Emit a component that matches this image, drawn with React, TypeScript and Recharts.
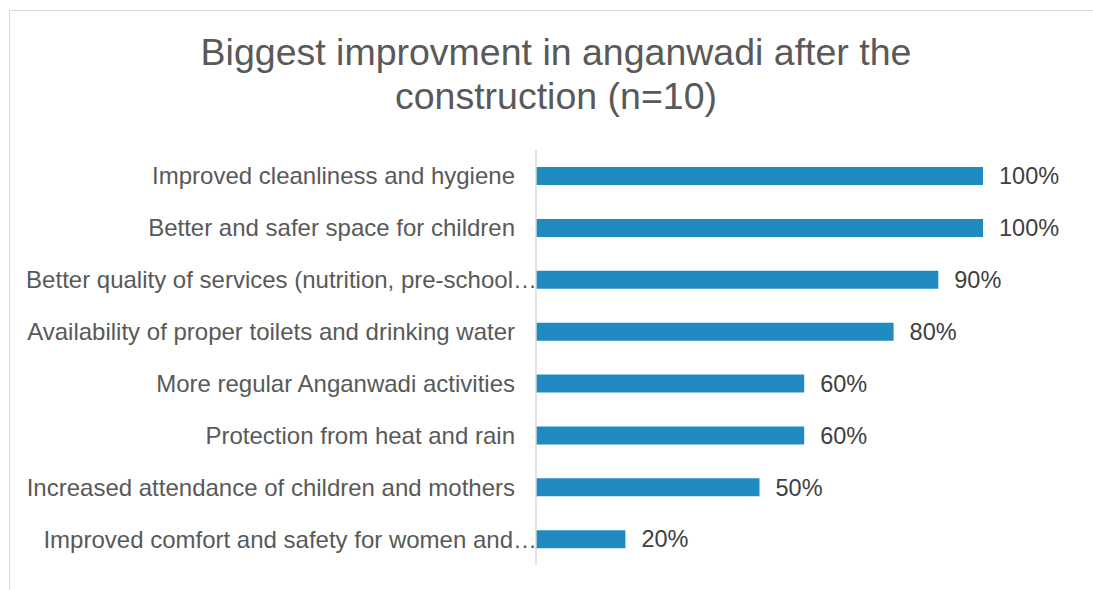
import { Bar, BarChart, LabelList, XAxis, YAxis } from "recharts";

const categories = [
  "Improved cleanliness and hygiene",
  "Better and safer space for children",
  "Better quality of services (nutrition, pre-school…",
  "Availability of proper toilets and drinking water",
  "More regular Anganwadi activities",
  "Protection from heat and rain",
  "Increased attendance of children and mothers",
  "Improved comfort and safety for women and…",
];

const shares = [100, 100, 90, 80, 60, 60, 50, 20];

const xTicks = [0, 100];

const data = categories.map((name, i) => ({ name, value: shares[i] }));

const FONT = "'Liberation Sans', Arial, sans-serif";

function CategoryTick({ x, y, payload }: { x?: number; y?: number; payload?: { value: string } }) {
  const label = payload?.value ?? "";
  // truncated labels run right up to the axis, like Excel does
  const dx = label.endsWith("…") ? 1 : -21;
  return (
    <text
      x={(x ?? 0) + dx}
      y={y}
      textAnchor="end"
      dominantBaseline="central"
      fill="#595959"
      fontSize={24}
      fontFamily={FONT}
    >
      {label}
    </text>
  );
}

export default function App() {
  return (
    <div
      style={{
        position: "fixed",
        left: 0,
        top: 0,
        width: 1093,
        height: 590,
        overflow: "hidden",
        background: "#fff",
        fontFamily: FONT,
      }}
    >
      <div
        style={{
          position: "absolute",
          left: 9,
          top: 10,
          width: 1200,
          height: 700,
          border: "1px solid #d9d9d9",
        }}
      />
      <div
        style={{
          position: "absolute",
          left: 19,
          top: 30,
          width: 1074,
          textAlign: "center",
          fontSize: 37.5,
          lineHeight: "44px",
          color: "#595959",
        }}
      >
        Biggest improvment in anganwadi after the
        <br />
        construction (n=10)
      </div>
      <div style={{ position: "absolute", left: 0, top: 0 }}>
        <BarChart
          width={1093}
          height={590}
          data={data}
          layout="vertical"
          margin={{ top: 150, right: 110, bottom: 25, left: 0 }}
          barCategoryGap={17}
        >
          <XAxis type="number" domain={[0, 100]} ticks={xTicks} hide />
          <YAxis
            type="category"
            dataKey="name"
            width={536}
            axisLine={{ stroke: "#d9d9d9", strokeWidth: 1.5 }}
            tickLine={false}
            tickSize={0}
            tickMargin={0}
            interval={0}
            tick={<CategoryTick />}
          />
          <Bar dataKey="value" fill="#1f8bc0" barSize={18} isAnimationActive={false}>
            <LabelList
              dataKey="value"
              position="right"
              offset={16}
              fill="#404040"
              fontSize={23.5}
              fontFamily={FONT}
              formatter={(v: number) => `${v}%`}
            />
          </Bar>
        </BarChart>
      </div>
    </div>
  );
}
